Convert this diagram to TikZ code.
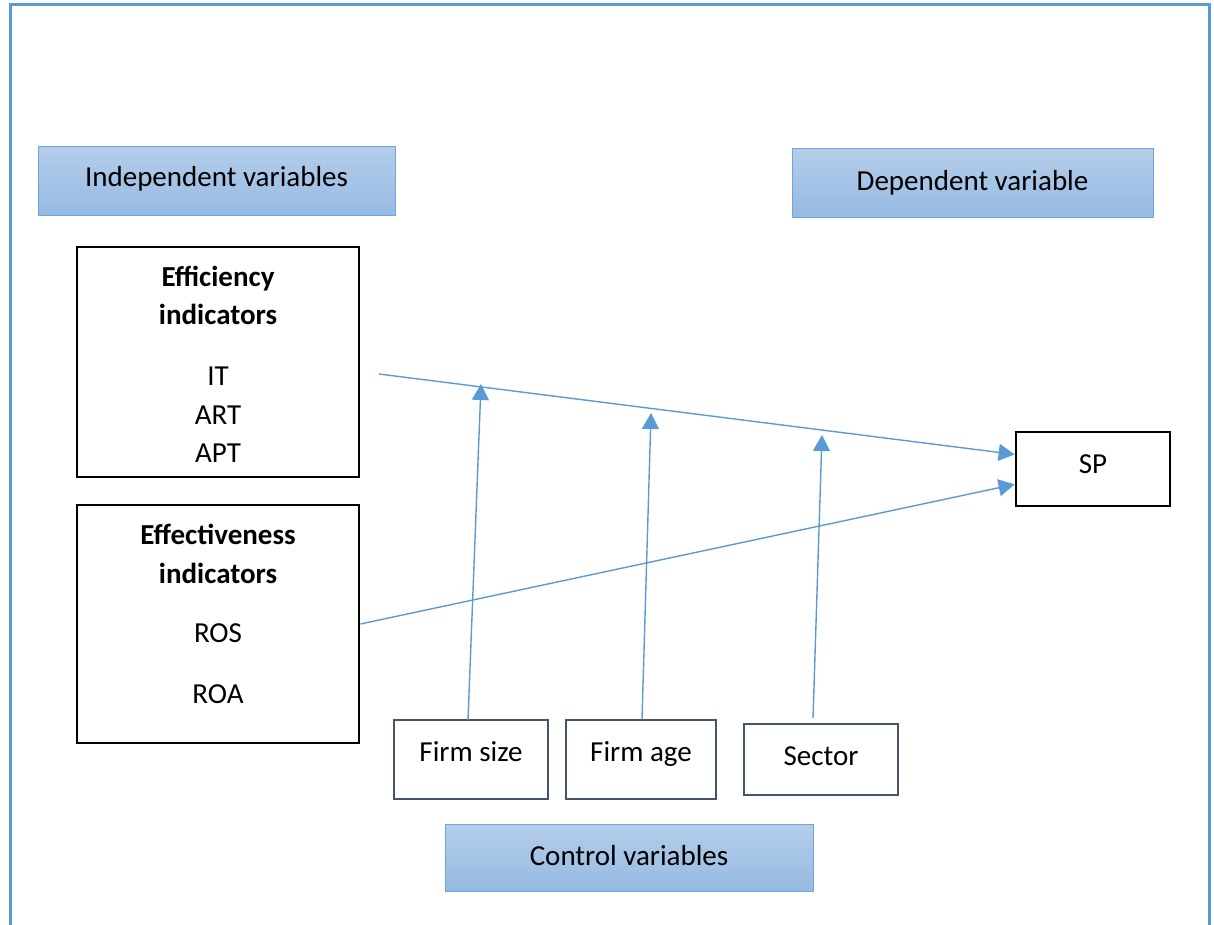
\documentclass[tikz,border=0pt]{standalone}
\usepackage{fontspec}
\setmainfont{Carlito}
\usetikzlibrary{arrows.meta,calc}
\definecolor{frameblue}{RGB}{91,155,213}
\definecolor{hdtop}{RGB}{180,205,234}
\definecolor{hdbot}{RGB}{150,186,227}
\definecolor{hdborder}{RGB}{110,165,218}
\definecolor{slate}{RGB}{68,84,106}
\tikzset{
  txt/.style={anchor=base, inner sep=0pt, font=\fontsize{29}{35}\selectfont},
  btxt/.style={txt, font=\fontsize{29}{35}\selectfont\bfseries},
  header/.style={draw=hdborder, line width=1pt, top color=hdtop, bottom color=hdbot, inner sep=0pt},
  blackbox/.style={draw=black, line width=2.8pt, inner sep=0pt},
  ctrlbox/.style={draw=slate, line width=2.8pt, inner sep=0pt},
  conn/.style={draw=frameblue, line width=1.4pt, -{Triangle[length=16pt,width=17pt]}}
}
\begin{document}
\begin{tikzpicture}[x=1pt,y=-1pt]
\useasboundingbox (0,0) rectangle (1214,925);
% outer frame (open at bottom)
\draw[frameblue, line width=3pt] (10,925) -- (10,5) -- (1209,5) -- (1209,925);

% headers
\node[header, minimum width=357pt, minimum height=69pt] (hind) at (216.5,181.5) {};
\node[txt] (hindt) at (216.5,187) {Independent variables};
\node[header, minimum width=361pt, minimum height=69pt] (hdep) at (972.5,183.5) {};
\node[txt] (hdept) at (972.5,191) {Dependent variable};
\node[header, minimum width=368pt, minimum height=67pt] (hctl) at (629,857.5) {};
\node[txt] (hctlt) at (629,865) {Control variables};

% efficiency box
\node[blackbox, minimum width=282pt, minimum height=230pt] (effi) at (218,362) {};
\node[btxt] (effa) at (218,286) {Efficiency};
\node[btxt] (effb) at (218,324) {indicators};
\node[txt] (it) at (218,385) {IT};
\node[txt] (art) at (218,424) {ART};
\node[txt] (apt) at (218,462) {APT};

% effectiveness box
\node[blackbox, minimum width=282pt, minimum height=238pt] (effe) at (218,624) {};
\node[btxt] (efea) at (218,544) {Effectiveness};
\node[btxt] (efeb) at (218,583) {indicators};
\node[txt] (ros) at (218,642) {ROS};
\node[txt] (roa) at (218,703) {ROA};

% SP box
\node[blackbox, minimum width=154pt, minimum height=74pt] (sp) at (1093,469) {};
\node[txt] (spt) at (1093,473) {SP};

% control boxes
\node[ctrlbox, minimum width=154pt, minimum height=79pt] (fs) at (471,759.5) {};
\node[txt] (fst) at (471,761) {Firm size};
\node[ctrlbox, minimum width=150pt, minimum height=79pt] (fa) at (641,759.5) {};
\node[txt] (fat) at (641,761) {Firm age};
\node[ctrlbox, minimum width=154pt, minimum height=71pt] (sec) at (821,759.5) {};
\node[txt] (sect) at (821,765) {Sector};

% connectors
\coordinate (s1) at (379,374);
\coordinate (t1) at ($(sp.north west)!0.31!(sp.south west)$);
\coordinate (t2) at ($(sp.north west)!0.70!(sp.south west)$);
\draw[conn] (s1) -- (t1);
\draw[conn] (effe.east) -- (t2);

\coordinate (fsb) at (468,720);
\coordinate (fse) at (481,384);
\coordinate (fab) at (642,719);
\coordinate (fae) at (651,413);
\coordinate (secb) at (813,718);
\coordinate (sece) at (822,435);
\draw[conn] (fsb) -- (fse);
\draw[conn] (fab) -- (fae);
\draw[conn] (secb) -- (sece);
\end{tikzpicture}
\end{document}
